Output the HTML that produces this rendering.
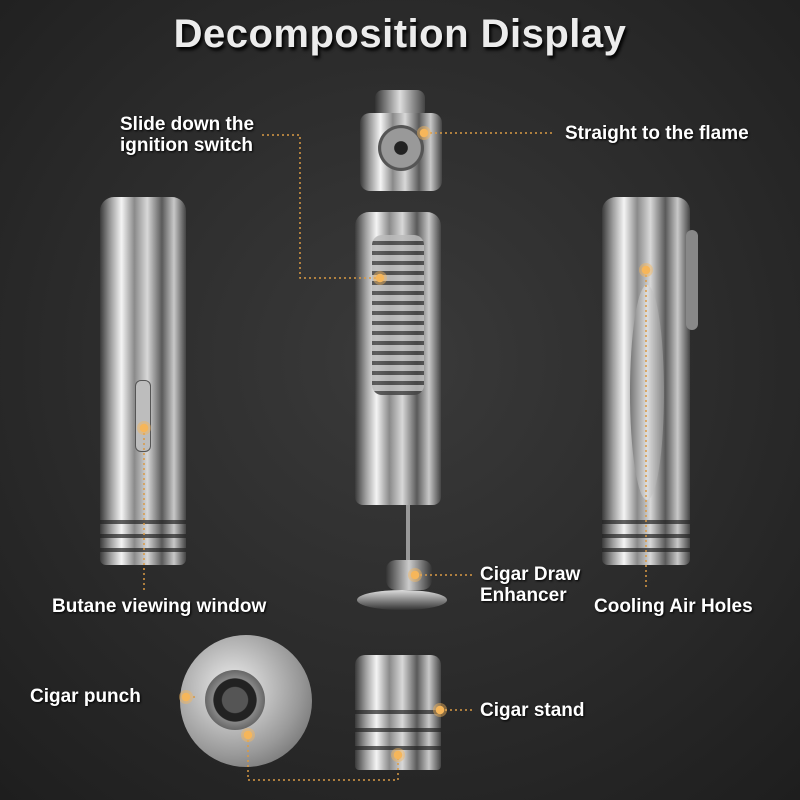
<!DOCTYPE html>
<html><head><meta charset="utf-8"><style>
html,body{margin:0;padding:0}
body{width:800px;height:800px;position:relative;overflow:hidden;
background:radial-gradient(circle at 50% 45%,#3a3a3a 0%,#2b2b2b 55%,#1e1e1e 100%);
font-family:"Liberation Sans",sans-serif;}
.title{position:absolute;left:0;width:800px;top:12px;text-align:center;font-size:40px;font-weight:bold;
color:#ececec;text-shadow:2px 3px 3px #000;letter-spacing:0.5px}
.lbl{position:absolute;color:#fff;font-weight:bold;font-size:19px;line-height:21px;white-space:nowrap;text-shadow:1px 1px 2px #000}
.metal{position:absolute;border-radius:8px;
background:linear-gradient(90deg,#3a3a3a 0%,#9a9a9a 12%,#f4f4f4 25%,#8a8a8a 40%,#d8d8d8 55%,#5a5a5a 72%,#c8c8c8 86%,#444 100%);}
.ring{position:absolute;left:0;right:0;height:4px;background:#222;opacity:.7}
.dot{position:absolute;width:14px;height:14px;margin:-7px 0 0 -7px;border-radius:50%;
background:radial-gradient(circle,#f6b65a 0 40%,rgba(246,182,90,.45) 45% 100%);}
</style></head><body>
<div class="title">Decomposition Display</div>

<div class="metal" style="left:100px;top:197px;width:86px;height:368px;border-radius:14px 14px 6px 6px"></div>
<div style="position:absolute;left:100px;top:512px;width:86px;height:54px">
<div class="ring" style="top:8px"></div><div class="ring" style="top:22px"></div><div class="ring" style="top:36px"></div></div>
<div style="position:absolute;left:135px;top:380px;width:14px;height:70px;border-radius:6px;background:#bdbdbd;border:1px solid #555"></div>

<div class="metal" style="left:355px;top:212px;width:86px;height:293px;border-radius:14px 14px 8px 8px"></div>
<div style="position:absolute;left:372px;top:235px;width:52px;height:160px;border-radius:10px;background:repeating-linear-gradient(180deg,#bbb 0 6px,#444 6px 10px);opacity:.85"></div>
<div style="position:absolute;left:375px;top:90px;width:50px;height:28px;border-radius:8px;background:linear-gradient(90deg,#333,#ddd,#444)"></div>
<div class="metal" style="left:360px;top:113px;width:82px;height:78px;border-radius:10px"></div>
<div style="position:absolute;left:378px;top:125px;width:46px;height:46px;border-radius:50%;background:radial-gradient(circle,#222 0 20%,#999 22% 60%,#555 62%)"></div>
<div style="position:absolute;left:406px;top:505px;width:4px;height:80px;background:#999"></div>
<div style="position:absolute;left:386px;top:560px;width:46px;height:30px;border-radius:10px;background:linear-gradient(90deg,#333,#ccc,#333)"></div>
<div style="position:absolute;left:357px;top:590px;width:90px;height:20px;border-radius:50%;background:linear-gradient(180deg,#ddd,#333)"></div>

<div class="metal" style="left:602px;top:197px;width:88px;height:368px;border-radius:14px 14px 6px 6px"></div>
<div style="position:absolute;left:602px;top:512px;width:88px;height:54px">
<div class="ring" style="top:8px"></div><div class="ring" style="top:22px"></div><div class="ring" style="top:36px"></div></div>
<div style="position:absolute;left:630px;top:285px;width:34px;height:215px;border-radius:50%;background:linear-gradient(90deg,#777,#ddd,#888)"></div>
<div style="position:absolute;left:686px;top:230px;width:12px;height:100px;border-radius:6px;background:#888"></div>

<div style="position:absolute;left:180px;top:635px;width:132px;height:132px;border-radius:50%;background:radial-gradient(circle at 40% 40%,#eee,#999 60%,#555)"></div>
<div style="position:absolute;left:205px;top:670px;width:60px;height:60px;border-radius:50%;background:radial-gradient(circle,#555 0 30%,#222 32% 50%,#888 52%,#333)"></div>

<div class="metal" style="left:355px;top:655px;width:86px;height:115px;border-radius:10px 10px 4px 4px"></div>
<div style="position:absolute;left:355px;top:700px;width:86px;height:70px">
<div class="ring" style="top:10px"></div><div class="ring" style="top:28px"></div><div class="ring" style="top:46px"></div></div>

<svg width="800" height="800" style="position:absolute;left:0;top:0">
<g stroke="#d99a45" stroke-width="1.5" stroke-dasharray="2,3" fill="none">
<polyline points="262,135 300,135 300,278 380,278"/>
<polyline points="425,133 555,133"/>
<polyline points="144,428 144,590"/>
<polyline points="646,270 646,590"/>
<polyline points="415,575 472,575"/>
<polyline points="195,697 186,697"/>
<polyline points="440,710 472,710"/>
<polyline points="248,735 248,780 398,780 398,755"/>
</g></svg>
<div class="dot" style="left:424px;top:133px"></div>
<div class="dot" style="left:380px;top:278px"></div>
<div class="dot" style="left:144px;top:428px"></div>
<div class="dot" style="left:646px;top:270px"></div>
<div class="dot" style="left:415px;top:575px"></div>
<div class="dot" style="left:186px;top:697px"></div>
<div class="dot" style="left:440px;top:710px"></div>
<div class="dot" style="left:398px;top:755px"></div>
<div class="dot" style="left:248px;top:735px"></div>

<div class="lbl" style="left:120px;top:114px">Slide down the<br>ignition switch</div>
<div class="lbl" style="left:565px;top:123px">Straight to the flame</div>
<div class="lbl" style="left:52px;top:596px">Butane viewing window</div>
<div class="lbl" style="left:480px;top:564px">Cigar Draw<br>Enhancer</div>
<div class="lbl" style="left:594px;top:596px">Cooling Air Holes</div>
<div class="lbl" style="left:30px;top:686px">Cigar punch</div>
<div class="lbl" style="left:480px;top:700px">Cigar stand</div>
</body></html>
